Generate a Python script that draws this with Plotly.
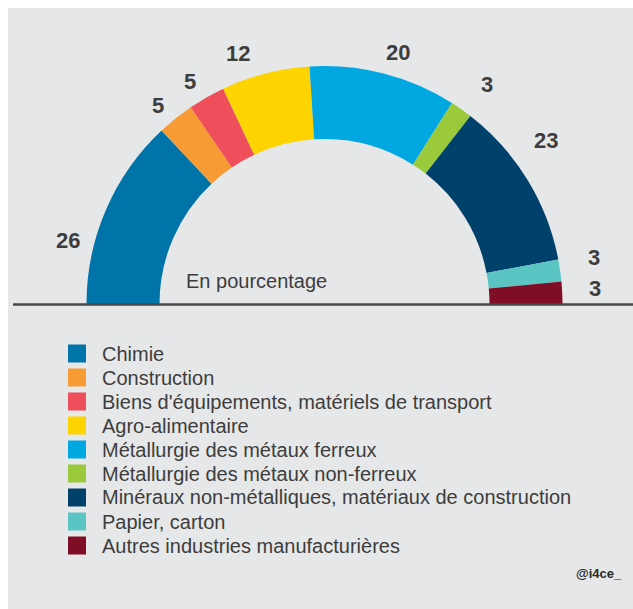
import math
import plotly.graph_objects as go

# Répartition par secteur (en pourcentage)
sectors = [
    "Chimie",
    "Construction",
    "Biens d'équipements, matériels de transport",
    "Agro-alimentaire",
    "Métallurgie des métaux ferreux",
    "Métallurgie des métaux non-ferreux",
    "Minéraux non-métalliques, matériaux de construction",
    "Papier, carton",
    "Autres industries manufacturières",
]
shares = [26, 5, 5, 12, 20, 3, 23, 3, 3]
colors = ["#0073a9", "#f79b35", "#ef4f5b", "#fdd300", "#00a7e1",
          "#9ac93c", "#00416b", "#5bc5c4", "#7f0d26"]

W, H = 633, 609
BG = "#e6e7e8"
TXT = "#3d3d3d"
FONT = "Liberation Sans, Arial, sans-serif"

# gauge geometry (pixels)
cx, cy, R = 324.5, 304.0, 238.0
hole = 165.0 / R


def px(x):
    return x / W


def py(y):
    return 1 - y / H


total = sum(shares)

fig = go.Figure()
# the upper half carries the sectors, an invisible slice fills the lower half
fig.add_trace(go.Pie(
    values=shares + [total],
    labels=sectors + [""],
    marker=dict(colors=colors + ["rgba(0,0,0,0)"], line=dict(width=0)),
    sort=False,
    direction="clockwise",
    rotation=270,
    hole=hole,
    textinfo="none",
    hoverinfo="skip",
    showlegend=False,
    domain=dict(x=[px(cx - R), px(cx + R)], y=[py(cy + R), py(cy - R)]),
))

# value labels around the arc: (angle nudge in degrees, radial nudge in px)
label_nudge = [(-9.5, -2), (-1.4, -7), (-1.5, -6), (-4.6, -1), (1.8, -4),
               (1.3, 7), (-4.9, 9), (-1.7, 7), (-0.5, 5)]
annotations = []
cum = 0
for v, (da, dr) in zip(shares, label_nudge):
    theta = math.radians(180.0 * (cum + v / 2) / total + da)
    r = 266 + dr
    lx = cx - r * math.cos(theta)
    ly = cy - r * math.sin(theta)
    annotations.append(dict(
        x=px(lx), y=py(ly), xref="paper", yref="paper",
        text=f"<b>{v}</b>", showarrow=False,
        font=dict(family=FONT, size=22, color=TXT),
        xanchor="center", yanchor="middle",
    ))
    cum += v

annotations.append(dict(
    x=px(184), y=py(280.5), xref="paper", yref="paper",
    text="En pourcentage", showarrow=False,
    font=dict(family=FONT, size=20, color=TXT),
    xanchor="left", yanchor="middle",
))

shapes = [
    dict(type="rect", xref="paper", yref="paper", layer="below",
         x0=px(8), x1=1, y0=0, y1=py(8), fillcolor=BG, line=dict(width=0)),
    dict(type="line", xref="paper", yref="paper", layer="above",
         x0=px(13), x1=1, y0=py(304.5), y1=py(304.5),
         line=dict(color="#464749", width=2.5)),
]

# legend
leg_top, leg_step = 353.5, 24.0
for i, (name, col) in enumerate(zip(sectors, colors)):
    yc = leg_top + i * leg_step
    shapes.append(dict(
        type="rect", xref="paper", yref="paper", layer="above",
        x0=px(68), x1=px(86), y0=py(yc + 9), y1=py(yc - 9),
        fillcolor=col, line=dict(width=0),
    ))
    annotations.append(dict(
        x=px(99.5), y=py(yc), xref="paper", yref="paper",
        text=name, showarrow=False,
        font=dict(family=FONT, size=20, color=TXT),
        xanchor="left", yanchor="middle",
    ))

annotations.append(dict(
    x=px(624), y=py(573), xref="paper", yref="paper",
    text="<b>@i4ce_</b>", showarrow=False,
    font=dict(family=FONT, size=13, color="#2a2a2a"),
    xanchor="right", yanchor="middle",
))

fig.update_layout(
    width=W, height=H,
    margin=dict(l=0, r=0, t=0, b=0),
    paper_bgcolor="white",
    plot_bgcolor="rgba(0,0,0,0)",
    shapes=shapes,
    annotations=annotations,
    showlegend=False,
)

fig.write_html("out.html")
